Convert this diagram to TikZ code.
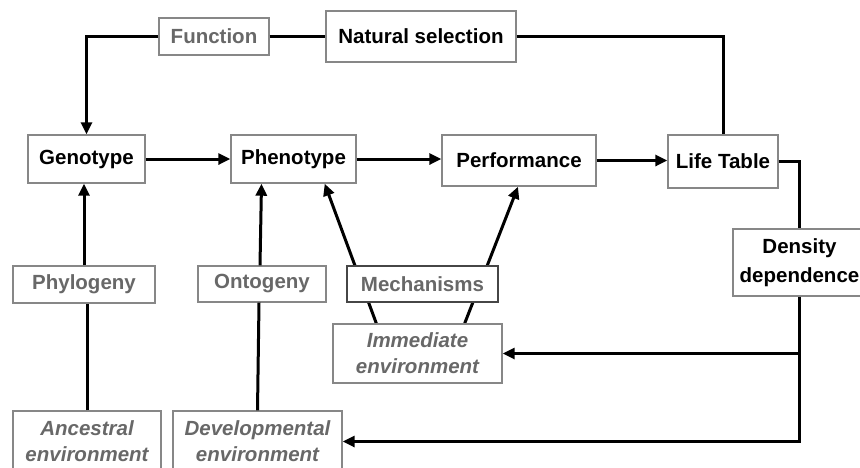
\documentclass[tikz,border=0pt]{standalone}
\usepackage{fontspec}
\setmainfont{Liberation Sans}
\usetikzlibrary{arrows.meta,backgrounds}
\definecolor{txtgray}{RGB}{104,104,104}
\definecolor{boxgray}{RGB}{135,135,135}
\definecolor{darkbox}{RGB}{70,70,70}
\tikzset{
  box/.style={draw=boxgray, line width=1.4pt, fill=white, inner sep=0pt, align=center,
    font=\fontsize{20.5}{25}\selectfont\bfseries},
  graybox/.style={box, text=txtgray},
  envbox/.style={box, text=txtgray, font=\fontsize{20.5}{26}\selectfont\bfseries\itshape},
  conn/.style={line width=3pt, black},
  arr/.style={conn, -{Triangle[length=12pt,width=11pt]}},
}
\begin{document}
\begin{tikzpicture}[x=1pt,y=-1pt]
\useasboundingbox (0,0) rectangle (860,467);
\clip (0,0) rectangle (860,467);
% nodes
\node[graybox, minimum width=110pt, minimum height=37pt] (func) at (214,36.5) {Function};
\node[box, minimum width=190pt, minimum height=51pt] (nat) at (421,36.5) {Natural selection};
\node[box, minimum width=117pt, minimum height=48pt] (geno) at (86.5,159) {Genotype};
\node[box, minimum width=125pt, minimum height=48pt] (pheno) at (293.5,159) {Phenotype};
\node[box, minimum width=154pt, minimum height=51pt] (perf) at (519,160.5) {Performance};
\node[box, minimum width=110pt, minimum height=53pt] (life) at (723,161.5) {Life Table};
\node[box, minimum width=133pt, minimum height=67pt, font=\fontsize{20.5}{29}\selectfont\bfseries] (dens) at (799.5,262.5) {Density\\dependence};
\node[graybox, minimum width=142pt, minimum height=37pt] (phylo) at (84,284.5) {Phylogeny};
\node[graybox, minimum width=128pt, minimum height=36pt] (onto) at (262,284) {Ontogeny};
\node[graybox, draw=darkbox, minimum width=151pt, minimum height=36pt] (mech) at (422.5,284) {Mechanisms};
\node[envbox, minimum width=169pt, minimum height=59pt] (imm) at (417.5,353.5) {Immediate\\environment};
\node[envbox, minimum width=148pt, minimum height=61pt] (anc) at (87,441.5) {Ancestral\\environment};
\node[envbox, minimum width=169pt, minimum height=61pt] (dev) at (257.5,441.5) {Developmental\\environment};
% connectors
\draw[arr] (func.west) -| (geno.north);
\draw[conn] (func.east) -- (nat.west);
\draw[conn] (nat.east) -| (life.north);
\draw[arr] (geno.east) -- (geno.east -| pheno.west);
\draw[arr] (pheno.east) -- (pheno.east -| perf.west);
\draw[arr] (perf.east) -- (perf.east -| life.west);
\draw[conn] (life.east) -| (dens.north);
\draw[arr] (dens.south) |- (dev.east);
\draw[arr] (dens.south |- imm.east) -- (imm.east);
\draw[conn] (anc.north) -- (anc.north |- phylo.south);
\draw[arr] (phylo.north) -- (phylo.north |- geno.south);
\draw[conn] (dev.north) -- ([xshift=-3pt]onto.south);
\draw[arr] ([xshift=-2pt]onto.north) -- ([xshift=-32pt]pheno.south);
\begin{pgfonlayer}{background}
\draw[arr] ([xshift=44pt]imm.north west) -- ([xshift=-32pt]pheno.south east);
\draw[arr] ([xshift=-38pt]imm.north east) -- ([xshift=-1pt]perf.south);
\end{pgfonlayer}
\end{tikzpicture}
\end{document}
